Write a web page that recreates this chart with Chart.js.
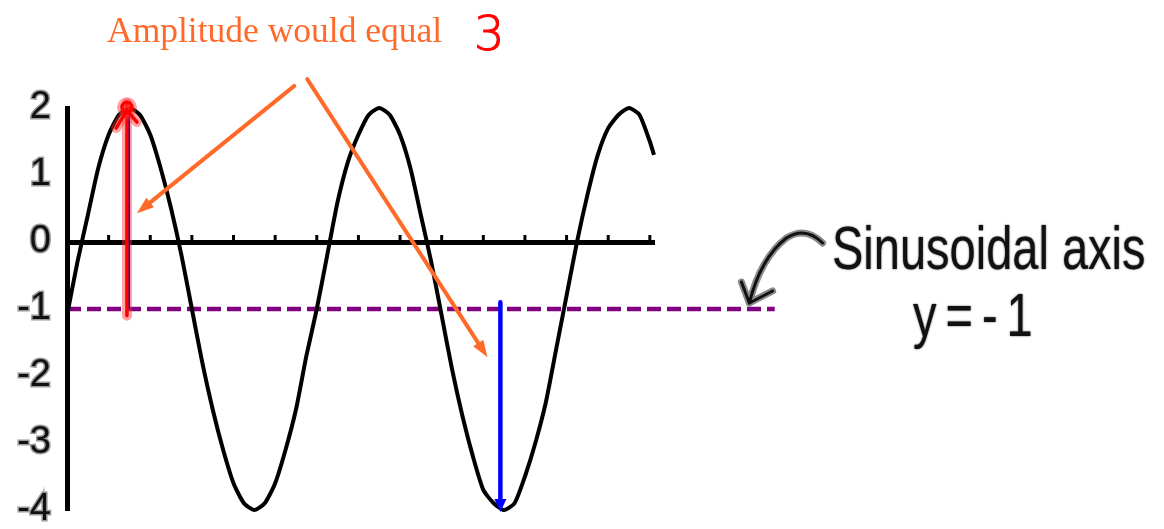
<!DOCTYPE html>
<html>
<head>
<meta charset="utf-8">
<script src="https://cdn.jsdelivr.net/npm/chart.js@4.4.1/dist/chart.umd.min.js"></script>
<style>
body{margin:0;background:#fff}
#wrap{position:relative;width:1164px;height:529px;overflow:hidden}
#grafico{position:absolute;left:0;top:0}
.nota{position:absolute;white-space:nowrap;line-height:1}
#amp{left:107px;top:13px;font-family:"Liberation Serif","Times New Roman",serif;font-size:35.5px;color:#ff6a2a}
#tres{left:474px;top:9px;font-family:"DejaVu Sans",sans-serif;font-weight:200;font-size:48px;color:#ff0000;-webkit-text-stroke:1px #ff0000}
.mao{font-family:"Liberation Sans",Arial,sans-serif;font-size:47px;color:#111;transform:scaleY(1.3);transform-origin:0 0;
text-shadow:0 0 1.5px #888,0 0 1.5px #888}
#sin{left:832px;top:217px}
#eq{left:913px;top:284px;letter-spacing:9px}
</style>
</head>
<body>
<div id="wrap">
<canvas id="grafico" width="1164" height="529"></canvas>
<div class="nota" id="amp">Amplitude would equal</div>
<div class="nota" id="tres">3</div>
<div class="nota mao" id="sin">Sinusoidal axis</div>
<div class="nota mao" id="eq">y=-1</div>
</div>
<script>
let xs=[0,0.25,0.5,0.75,1,1.25,1.5,1.75,2,2.25,2.5,2.75,3,3.25,3.5,3.75,4,4.25,4.5,4.75,5,5.25,5.5,5.75,6,6.25,6.5,6.75,7,7.25,7.5,7.75,8,8.25,8.5,8.75,9,9.25,9.5,9.75,10,10.25,10.5,10.75,11,11.25,11.5,11.75,12,12.25,12.5,12.75,13,13.25,13.5,13.75,14,14.1]
let ys=[-1.1,-0.3,0.4,1.1,1.6,1.9,2.0,1.9,1.6,1.1,0.5,-0.2,-1.0,-1.8,-2.5,-3.1,-3.6,-3.9,-4.0,-3.9,-3.6,-3.1,-2.5,-1.7,-1.0,-0.2,0.6,1.2,1.6,1.9,2.0,1.9,1.6,1.1,0.4,-0.3,-1.1,-1.9,-2.6,-3.2,-3.7,-3.9,-4.0,-3.9,-3.5,-3.0,-2.4,-1.6,-0.8,0.0,0.7,1.3,1.7,1.9,2.0,1.9,1.5,1.3]
let yTicks=[-4,-3,-2,-1,0,1,2]
let eixoSin=-1
let eixoSinX=[0,17]
// amplitude: pico ate o eixo, eixo ate o vale
let ampPico=[1.44,2.07,-1.1]
let ampAzul1=[1.49,1.9,-1]
let ampAzul2=[10.41,-0.9,-4.03]
// setas laranja [x1,y1,x2,y2]
let setasLaranja=[[5.46,2.33,1.68,0.43],[5.77,2.43,10.10,-1.72]]
// seta desenhada a mao ate o eixo
let setaMao=[[18.15,-0.015],[17.74,0.239],[17.28,0.06],[16.66,-0.239],[16.39,-0.91]]
let pontaMao=[[16.20,-0.597],[16.95,-0.731]]

function pts(a,b){return a.map((v,i)=>({x:v,y:b[i]}))}

function ponta(ctx,x1,y1,x2,y2,cor,len,larg){
let ang=Math.atan2(y2-y1,x2-x1)
ctx.fillStyle=cor
ctx.beginPath()
ctx.moveTo(x2,y2)
ctx.lineTo(x2-len*Math.cos(ang)+larg*Math.sin(ang),y2-len*Math.sin(ang)-larg*Math.cos(ang))
ctx.lineTo(x2-len*Math.cos(ang)-larg*Math.sin(ang),y2-len*Math.sin(ang)+larg*Math.cos(ang))
ctx.closePath()
ctx.fill()
}

// marquinhas do eixo x para cima, como na calculadora
let marcas={id:'marcas',afterDraw(chart){
let ctx=chart.ctx,sx=chart.scales.x,y0=chart.scales.y.getPixelForValue(0)
ctx.save()
ctx.strokeStyle='#000';ctx.lineWidth=3
sx.ticks.forEach(t=>{
let x=sx.getPixelForValue(t.value)
ctx.beginPath();ctx.moveTo(x,y0);ctx.lineTo(x,y0-7);ctx.stroke()
})
ctx.restore()
}}

let setas={id:'setas',afterDatasetsDraw(chart){
let ctx=chart.ctx,sx=chart.scales.x,sy=chart.scales.y
let px=v=>sx.getPixelForValue(v),py=v=>sy.getPixelForValue(v)
ctx.save()
ctx.lineCap='round'

// ponta azul no vale
ponta(ctx,px(ampAzul2[0]),py(ampAzul2[1]),px(ampAzul2[0]),py(ampAzul2[2]),'#0000ff',13,6)

// ponta vermelha no pico
let cx=px(ampPico[0]),cy=py(2.01)
;[['rgba(255,50,50,0.45)',10],['#ff0000',3.5]].forEach(c=>{
ctx.strokeStyle=c[0];ctx.lineWidth=c[1]
ctx.beginPath()
ctx.moveTo(px(1.18),py(1.70));ctx.lineTo(cx,cy+3);ctx.lineTo(px(1.68),py(1.79))
ctx.stroke()
ctx.beginPath();ctx.arc(cx,cy,5,0,Math.PI*2);ctx.stroke()
})

// setas laranja
setasLaranja.forEach(s=>{
let x1=px(s[0]),y1=py(s[1]),x2=px(s[2]),y2=py(s[3])
let ang=Math.atan2(y2-y1,x2-x1)
ctx.strokeStyle='#ff6a28';ctx.lineWidth=4
ctx.beginPath();ctx.moveTo(x1,y1);ctx.lineTo(x2-10*Math.cos(ang),y2-10*Math.sin(ang));ctx.stroke()
ponta(ctx,x1,y1,x2,y2,'#ff6a28',17,6)
})

// seta feita a mao
let p=setaMao.map(q=>[px(q[0]),py(q[1])])
let h=pontaMao.map(q=>[px(q[0]),py(q[1])])
;[['#8a8a8a',7],['#111',3]].forEach(c=>{
ctx.strokeStyle=c[0];ctx.lineWidth=c[1];ctx.lineJoin='round'
ctx.beginPath()
ctx.moveTo(p[0][0],p[0][1])
ctx.quadraticCurveTo(p[1][0],p[1][1],p[2][0],p[2][1])
ctx.quadraticCurveTo(p[3][0],p[3][1],p[4][0],p[4][1])
ctx.stroke()
ctx.beginPath()
ctx.moveTo(h[0][0],h[0][1]);ctx.lineTo(p[4][0],p[4][1]);ctx.lineTo(h[1][0],h[1][1])
ctx.stroke()
})
ctx.restore()
}}

new Chart(document.getElementById('grafico'),{
type:'line',
data:{datasets:[
{data:pts(xs,ys),borderColor:'#000',borderWidth:4,pointRadius:0,tension:0.2,order:2,clip:false},
{data:pts(eixoSinX,[eixoSin,eixoSin]),borderColor:'#800080',borderWidth:4.5,borderDash:[14,6],pointRadius:0,order:3,clip:false},
{data:pts([ampAzul1[0],ampAzul1[0]],[ampAzul1[1],ampAzul1[2]]),borderColor:'#0000ff',borderWidth:2,pointRadius:0,order:1,clip:false},
{data:pts([ampPico[0],ampPico[0]],[ampPico[1],ampPico[2]]),borderColor:'rgba(255,50,50,0.45)',borderWidth:10,borderCapStyle:'round',pointRadius:0,order:1,clip:false},
{data:pts([ampPico[0],ampPico[0]],[ampPico[1],ampPico[2]]),borderColor:'#ff0000',borderWidth:3.5,borderCapStyle:'round',pointRadius:0,order:0,clip:false},
{data:pts([ampAzul2[0],ampAzul2[0]],[ampAzul2[1],ampAzul2[2]+0.1]),borderColor:'#0000ff',borderWidth:4.5,borderCapStyle:'round',pointRadius:0,order:0,clip:false}
]},
options:{
responsive:false,animation:false,devicePixelRatio:1,
layout:{padding:{left:0,top:108,right:510,bottom:19}},
plugins:{legend:{display:false},tooltip:{enabled:false}},
scales:{
x:{type:'linear',min:0,max:14.1,position:{y:0},
afterFit(s){s.height=0;s.paddingLeft=0;s.paddingRight=0},
border:{color:'#000',width:5},
grid:{display:false,drawTicks:false},
ticks:{stepSize:1,includeBounds:false,callback:()=>''}},
y:{type:'linear',min:yTicks[0],max:yTicks[yTicks.length-1],
afterFit(s){s.width=67;s.paddingTop=0;s.paddingBottom=0},
afterBuildTicks(s){s.ticks=yTicks.map(v=>({value:v}))},
border:{color:'#000',width:5},
grid:{display:false,drawTicks:false},
ticks:{padding:16,color:'#111',textStrokeColor:'#9a9a9a',textStrokeWidth:3,
font:{family:'Liberation Sans',size:38},callback:v=>String(v)}}
}
},
plugins:[setas,marcas]
})
</script>
</body>
</html>
